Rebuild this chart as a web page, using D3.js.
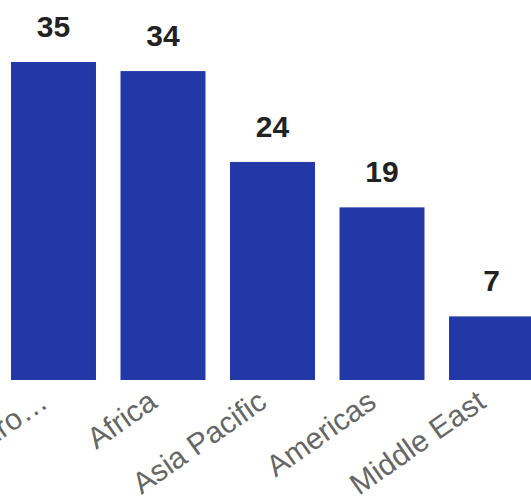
<!DOCTYPE html>
<html>
<head>
<meta charset="utf-8">
<script src="https://cdn.jsdelivr.net/npm/d3@7"></script>
<style>
  html, body { margin: 0; padding: 0; background: #fff; }
  svg { display: block; }
</style>
</head>
<body>
<div id="chart"></div>
<script>
const categories = ['Euro…', 'Africa', 'Asia Pacific', 'Americas', 'Middle East'];
const values = [35, 34, 24, 19, 7];

const width = 531;
const height = 500;
const barColor = '#2238a6';

const svg = d3.select('#chart')
  .append('svg')
  .attr('width', width)
  .attr('height', height);

const x = d3.scaleBand()
  .domain(categories)
  .range([-1.25, 546.25])
  .paddingInner(0.224)
  .paddingOuter(0.112);

const y = d3.scaleLinear()
  .domain([0, 35])
  .range([380, 62]);

svg.append('g')
  .selectAll('rect')
  .data(values)
  .enter()
  .append('rect')
  .attr('x', (d, i) => x(categories[i]))
  .attr('y', d => y(d))
  .attr('width', x.bandwidth())
  .attr('height', d => y(0) - y(d))
  .attr('fill', barColor);

svg.append('g')
  .selectAll('text')
  .data(values)
  .enter()
  .append('text')
  .attr('x', (d, i) => x(categories[i]) + x.bandwidth() / 2)
  .attr('y', d => y(d) - 25)
  .attr('text-anchor', 'middle')
  .style('font-family', 'Liberation Sans, Arial, sans-serif')
  .style('font-size', '30px')
  .style('font-weight', 'bold')
  .style('fill', '#222')
  .text(d => d);

// category labels, rotated like the source
const xAxis = svg.append('g')
  .attr('transform', `translate(0, ${y(0)})`)
  .call(d3.axisBottom(x).tickSize(0).tickPadding(0));

xAxis.select('.domain').remove();
xAxis.selectAll('text')
  .attr('text-anchor', 'end')
  .attr('dy', null)
  .attr('y', 0)
  .attr('transform', 'translate(-4, 26) rotate(-35)')
  .style('font-family', 'Liberation Sans, Arial, sans-serif')
  .style('font-size', '30px')
  .style('fill', '#666');
</script>
</body>
</html>
